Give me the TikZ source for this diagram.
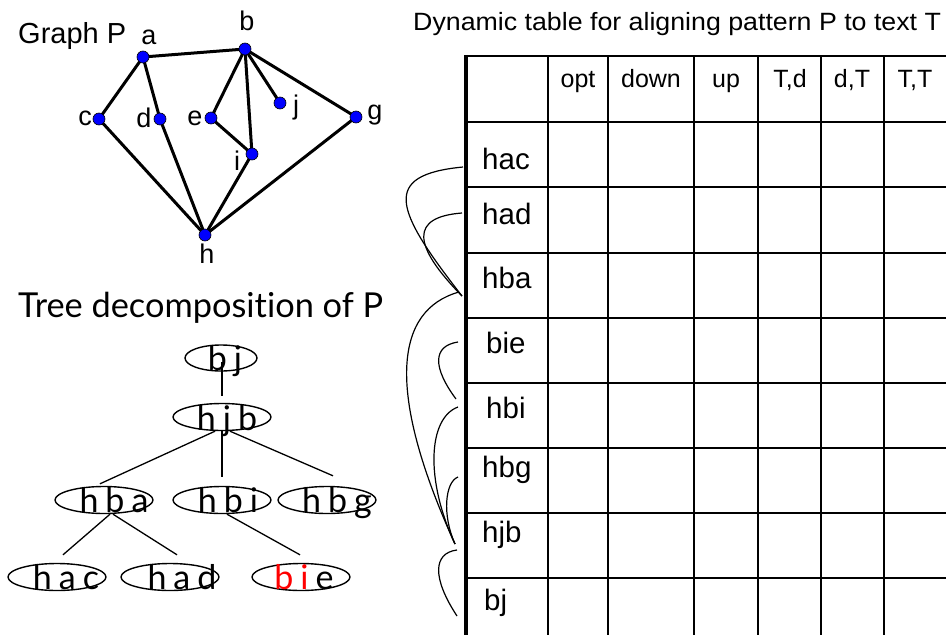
\documentclass[tikz,border=0pt]{standalone}
\usepackage{fontspec}
\setmainfont{Liberation Sans}
\newfontfamily\gillfont[Ligatures=NoCommon]{Lato}
\usetikzlibrary{shapes.geometric,backgrounds}
\newcommand\tsp{\hspace{7pt}}
\begin{document}
\begin{tikzpicture}[x=1pt,y=-1pt,
  gedge/.style={line width=3pt},
  gdot/.style={circle,fill=blue,draw=black,line width=0.6pt,minimum size=12pt,inner sep=0pt},
  glabel/.style={anchor=base,inner sep=0pt,font=\fontsize{27pt}{29pt}\selectfont},
  tline/.style={line width=1.3pt},
  tell/.style={ellipse,draw,line width=1.4pt,minimum width=98pt,minimum height=27pt,inner sep=0pt},
  ttext/.style={anchor=base,inner sep=0pt,font=\gillfont\fontsize{34pt}{36pt}\selectfont},
  gridline/.style={line width=2.5pt},
  hdr/.style={anchor=base,inner sep=0pt,font=\fontsize{25pt}{27pt}\selectfont},
  rowlab/.style={anchor=base west,inner sep=0pt,font=\fontsize{29.5pt}{31pt}\selectfont},
  link/.style={line width=1.2pt}
]
\useasboundingbox (0,0) rectangle (946,635);

% ---------- titles
\node[anchor=base west,inner sep=0pt,font=\fontsize{25pt}{27pt}\selectfont] (title) at (413,30)
  {\scalebox{1.07}[1]{Dynamic table for aligning pattern P to text T}};
\node[anchor=base west,inner sep=0pt,font=\fontsize{29pt}{31pt}\selectfont] (gtitle) at (18,43) {Graph P};
\node[anchor=base west,inner sep=0pt,font=\gillfont\fontsize{31pt}{33pt}\selectfont] (ttitle) at (18,317)
  {\resizebox{365pt}{!}{Tree decomposition of P}};

% ---------- graph P
\node[gdot] (a) at (143,57) {};
\node[gdot] (b) at (245,49) {};
\node[gdot] (c) at (99,119) {};
\node[gdot] (d) at (160,119) {};
\node[gdot] (e) at (211,118) {};
\node[gdot] (j) at (280,103) {};
\node[gdot] (g) at (356,117) {};
\node[gdot] (i) at (252,154) {};
\node[gdot] (h) at (205,235) {};
\begin{scope}[on background layer]
\draw[gedge] (a.center) -- (b.center);
\draw[gedge] (a.center) -- (c.center);
\draw[gedge] (a.center) -- (d.center);
\draw[gedge] (d.center) -- (h.center);
\draw[gedge] (c.center) -- (h.center);
\draw[gedge] (b.center) -- (e.center);
\draw[gedge] (e.center) -- (i.center);
\draw[gedge] (b.center) -- (i.center);
\draw[gedge] (b.center) -- (j.center);
\draw[gedge] (b.center) -- (g.center);
\draw[gedge] (i.center) -- (h.center);
\draw[gedge] (g.center) -- (h.center);
\end{scope}
\node[glabel] (la) at (149,44) {a};
\node[glabel] (lb) at (247,30) {b};
\node[glabel] (lc) at (85,125) {c};
\node[glabel] (ld) at (144,127) {d};
\node[glabel] (le) at (195,125) {e};
\node[glabel] (lj) at (296,114) {j};
\node[glabel] (lg) at (375,119) {g};
\node[glabel] (li) at (237,170) {i};
\node[glabel] (lh) at (207,263) {h};

% ---------- tree decomposition
\node[tell,minimum width=72pt,minimum height=26pt] (Ebj) at (221,358) {};
\node[tell] (Ehjb) at (222,417) {};
\node[tell] (Ehba) at (104,500) {};
\node[tell] (Ehbi) at (222,500) {};
\node[tell] (Ehbg) at (327,500) {};
\node[tell] (Ehac) at (57,577) {};
\node[tell] (Ehad) at (170,577) {};
\node[tell] (Ebie) at (301,577) {};
\node[ttext] (Tbj) at (225,370) {b\tsp j};
\node[ttext] (Thjb) at (227,430) {h\tsp j\tsp b};
\node[ttext] (Thba) at (114,512) {h\tsp b\tsp a};
\node[ttext] (Thbi) at (228,512) {h\tsp b\tsp i};
\node[ttext] (Thbg) at (337,512) {h\tsp b\tsp g};
\node[ttext] (Thac) at (66,589) {h\tsp a\tsp c};
\node[ttext] (Thad) at (182,589) {h\tsp a\tsp d};
\node[ttext] (Tbie) at (304,589) {\textcolor{red}{b\tsp i}\tsp e};
\draw[tline] ([xshift=1pt,yshift=-4pt]Ebj.center) -- ([yshift=6.5pt]Ehjb.north);
\draw[tline] ([xshift=-7pt]Ehjb.south) -- ([xshift=-4pt,yshift=2pt]Ehba.north);
\draw[tline] (Ehjb.south) -- ([yshift=8.5pt]Ehbi.north);
\draw[tline] ([xshift=8pt]Ehjb.south) -- ([xshift=6pt,yshift=10pt]Ehbg.north);
\draw[tline] ([xshift=6pt]Ehba.south) -- ([xshift=6pt,yshift=8pt]Ehac.north);
\draw[tline] ([xshift=9pt]Ehba.south) -- ([xshift=7pt,yshift=8pt]Ehad.north);
\draw[tline] ([xshift=5pt]Ehbi.south) -- ([xshift=-1pt,yshift=8pt]Ebie.north);

% ---------- table
\foreach \yy in {56,122,187,253,318,383,448,513,578}
  \draw[gridline] (465,\yy) -- (946,\yy);
\foreach \xx in {548,608,694,758,821,884}
  \draw[gridline] (\xx,56) -- (\xx,635);
\draw[line width=4pt] (466,54.8) -- (466,635);
\node[hdr] (hopt) at (578,87) {opt};
\node[hdr] (hdown) at (651,87) {down};
\node[hdr] (hup) at (726,87) {up};
\node[hdr] (hTd) at (790,87) {T,d};
\node[hdr] (hdT) at (852,87) {d,T};
\node[hdr] (hTT) at (915,87) {T,T};
\node[rowlab] (Rhac) at (482,169) {hac};
\node[rowlab] (Rhad) at (482,224) {had};
\node[rowlab] (Rhba) at (482,288) {hba};
\node[rowlab] (Rbie) at (486,353) {bie};
\node[rowlab] (Rhbi) at (486,418) {hbi};
\node[rowlab] (Rhbg) at (482,477) {hbg};
\node[rowlab] (Rhjb) at (482,542) {hjb};
\node[rowlab] (Rbj) at (484,610) {bj};

% ---------- links between rows
\coordinate (Lhac) at (463,167);
\coordinate (Lhad) at (462,213);
\coordinate (Lhbain) at (462,296);
\coordinate (Lhbaout) at (459,292);
\coordinate (Lbie) at (458,342);
\coordinate (Lhbiin) at (456,399);
\coordinate (Lhbiout) at (458,407);
\coordinate (Lhbg) at (458,477);
\coordinate (Lhjbin) at (455,544);
\coordinate (Lhjbout) at (457,550);
\coordinate (Lbj) at (457,616);
\draw[link] (Lhac) .. controls (380,175) and (395,210) .. (Lhbain);
\draw[link] (Lhad) .. controls (410,217) and (412,245) .. (Lhbain);
\draw[link] (Lhbaout) .. controls (395,310) and (385,390) .. (Lhjbin);
\draw[link] (Lbie) .. controls (432,346) and (433,368) .. (Lhbiin);
\draw[link] (Lhbiout) .. controls (428,418) and (425,480) .. (Lhjbin);
\draw[link] (Lhbg) .. controls (445,482) and (442,515) .. (Lhjbin);
\draw[link] (Lhjbout) .. controls (433,553) and (432,578) .. (Lbj);
\end{tikzpicture}
\end{document}
